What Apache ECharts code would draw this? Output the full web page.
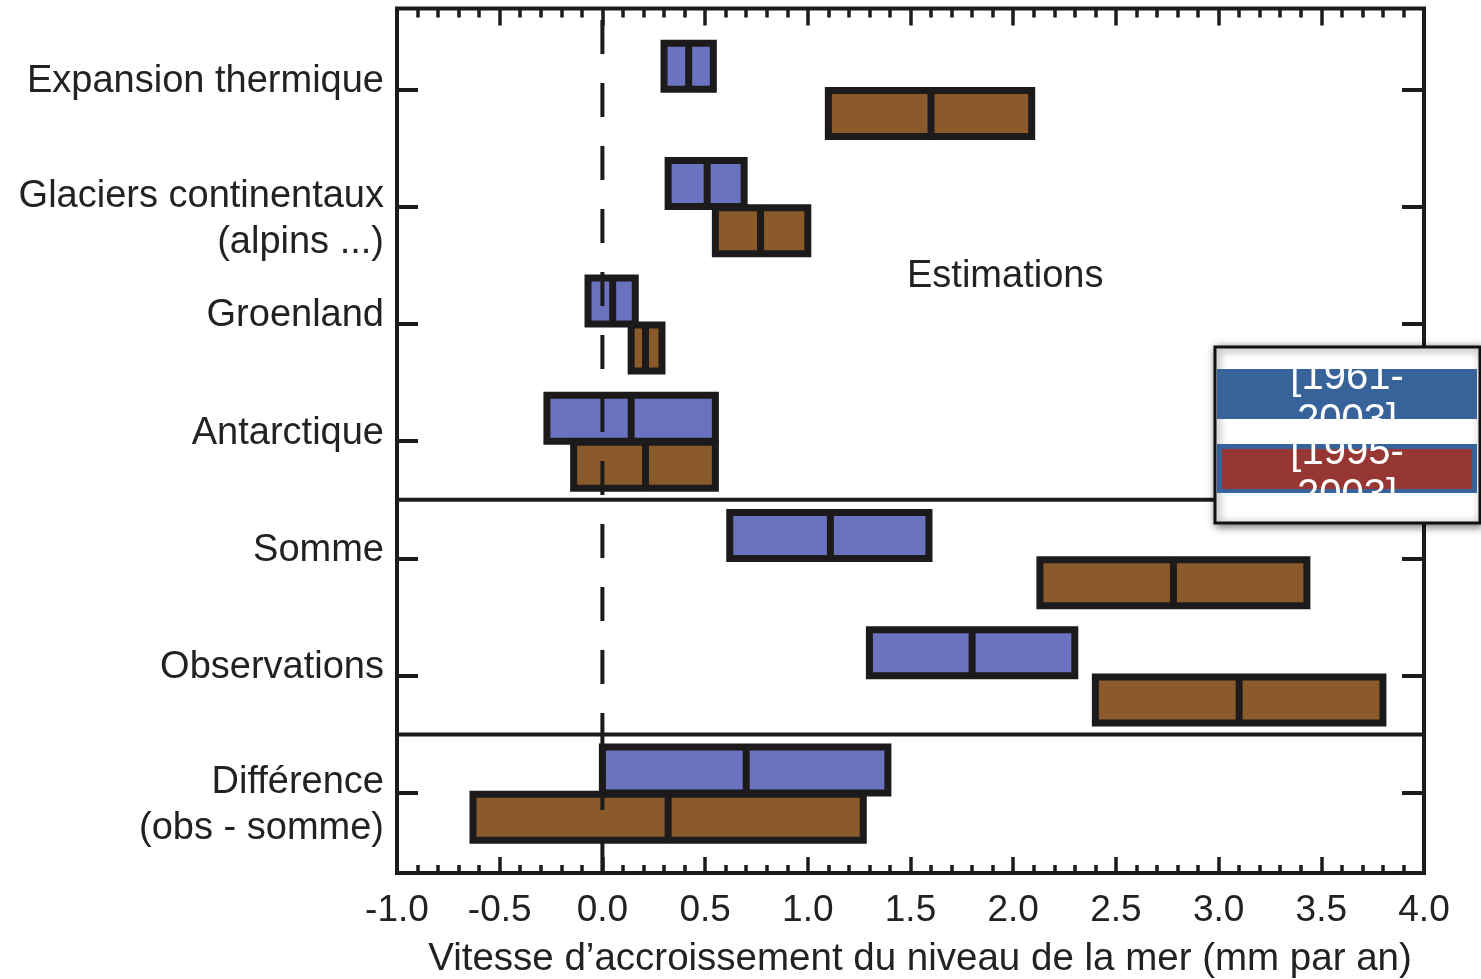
<!DOCTYPE html>
<html>
<head>
<meta charset="utf-8">
<script src="https://cdn.jsdelivr.net/npm/echarts@6/dist/echarts.min.js"></script>
<style>
  html, body { margin: 0; padding: 0; background: #fff; }
  #chart { width: 1481px; height: 979px; }
</style>
</head>
<body>
<div id="chart"></div>
<script>
// Contributions à l'élévation du niveau de la mer (mm par an)
const categories = [
  'Expansion thermique',
  'Glaciers continentaux\n(alpins ...)',
  'Groenland',
  'Antarctique',
  'Somme',
  'Observations',
  'Différence\n(obs - somme)'
];
const periods = ['[1961-2003]', '[1995-2003]'];

// Période 1961-2003 : borne basse, valeur centrale, borne haute
const low1961  = [0.30, 0.32, -0.07, -0.27, 0.62, 1.30, 0.00];
const mid1961  = [0.42, 0.51,  0.05,  0.14, 1.11, 1.80, 0.70];
const high1961 = [0.54, 0.69,  0.16,  0.55, 1.59, 2.30, 1.39];

// Période récente
const low1995  = [1.10, 0.55, 0.14, -0.14, 2.13, 2.40, -0.63];
const mid1995  = [1.60, 0.77, 0.21,  0.21, 2.78, 3.10,  0.32];
const high1995 = [2.09, 1.00, 0.29,  0.55, 3.43, 3.80,  1.27];

// Axe horizontal
const xMin = -1.0;
const xMax = 4.0;
const xStep = 0.5;
const zeroValue = 0;

// Premier indice de chaque nouveau groupe (traits de séparation)
const groupStarts = [4, 6];

const FONT = "'Liberation Sans', Arial, Helvetica, sans-serif";
const INK = '#1c1a1b';
const TEXT = '#222';
const fills = ['#6b72bf', '#8a5a2b'];
const legendFills = ['#38639a', '#963733'];

function rows(lo, mid, hi) {
  return categories.map((c, i) => [i, lo[i], mid[i], hi[i]]);
}

function barRenderer(period) {
  return function (params, api) {
    const cat = api.value(0);
    const pLo = api.coord([api.value(1), cat]);
    const pMid = api.coord([api.value(2), cat]);
    const pHi = api.coord([api.value(3), cat]);
    const band = api.size([0, 1])[1];
    const h = band * 0.392;
    const top = period === 0 ? pLo[1] - h : pLo[1] + band * 0.01;
    return {
      type: 'group',
      children: [
        {
          type: 'rect',
          shape: { x: pLo[0], y: top, width: pHi[0] - pLo[0], height: h },
          style: { fill: fills[period], stroke: INK, lineWidth: 7 }
        },
        {
          type: 'line',
          shape: { x1: pMid[0], y1: top, x2: pMid[0], y2: top + h },
          style: { stroke: INK, lineWidth: 7 }
        }
      ]
    };
  };
}

const chart = echarts.init(document.getElementById('chart'), null, { renderer: 'canvas' });

const tickStyle = { color: INK, width: 3.5 };
const labelFont = { fontSize: 38, color: TEXT, fontFamily: FONT, lineHeight: 47 };

const option = {
  backgroundColor: '#fff',
  animation: false,
  textStyle: { fontFamily: FONT },
  grid: [
    { left: 397, right: 57, top: 8.5, bottom: 106, show: true, borderColor: INK, borderWidth: 4, backgroundColor: 'transparent', outerBoundsMode: 'none', containLabel: false },
    { left: 397, right: 57, top: 30.65, bottom: 127.25, show: false, outerBoundsMode: 'none', containLabel: false }
  ],
  xAxis: [
    {
      gridIndex: 0, type: 'value', position: 'bottom', min: xMin, max: xMax, interval: xStep,
      axisLine: { show: false, onZero: false },
      splitLine: { show: false },
      axisTick: { show: true, inside: true, length: 16, lineStyle: tickStyle },
      minorTick: { show: true, splitNumber: 5, length: 8, lineStyle: tickStyle },
      axisLabel: {
        show: true, margin: 19, fontSize: 37, color: TEXT, fontFamily: FONT,
        formatter: v => v.toFixed(1), showMinLabel: true, showMaxLabel: true
      },
      name: 'Vitesse d\u2019accroissement du niveau de la mer (mm par an)',
      nameLocation: 'middle',
      nameGap: 67,
      nameTextStyle: { fontSize: 38.5, color: TEXT, fontFamily: FONT, padding: [0, 0, 0, 19] }
    },
    {
      gridIndex: 0, type: 'value', position: 'top', min: xMin, max: xMax, interval: xStep,
      axisLine: { show: false, onZero: false },
      splitLine: { show: false },
      axisTick: { show: true, inside: true, length: 17, lineStyle: tickStyle },
      minorTick: { show: true, splitNumber: 5, length: 9, lineStyle: tickStyle },
      axisLabel: { show: false }
    },
    {
      gridIndex: 1, type: 'value', min: xMin, max: xMax, interval: xStep, show: false
    }
  ],
  yAxis: [
    { gridIndex: 0, type: 'value', min: 0, max: 1, show: false },
    {
      gridIndex: 1, type: 'category', data: categories, inverse: true, position: 'left',
      axisLine: { show: false, onZero: false },
      splitLine: { show: false },
      axisTick: { show: true, inside: true, alignWithLabel: true, length: 21, lineStyle: { color: INK, width: 4 } },
      axisLabel: {
        margin: 13, fontSize: 38, color: TEXT, fontFamily: FONT, lineHeight: 47,
        formatter: function (v) {
          const parts = v.split('\n');
          if (parts.length > 1) return '{m|' + parts[0] + '}\n{n|' + parts[1] + '}';
          return '{s|' + v + '}';
        },
        rich: {
          s: Object.assign({ padding: [0, 0, 16, 0] }, labelFont),
          m: Object.assign({ padding: [26, 0, 0, 0] }, labelFont),
          n: Object.assign({ padding: [24, 0, 0, 0] }, labelFont)
        }
      }
    },
    {
      gridIndex: 1, type: 'category', data: categories, inverse: true, position: 'right',
      axisLine: { show: false, onZero: false },
      splitLine: { show: false },
      axisTick: { show: true, inside: true, alignWithLabel: true, length: 22, lineStyle: { color: INK, width: 4 } },
      axisLabel: { show: false }
    }
  ],
  series: [
    {
      name: periods[0], type: 'custom', xAxisIndex: 2, yAxisIndex: 1, z: 3,
      renderItem: barRenderer(0), data: rows(low1961, mid1961, high1961)
    },
    {
      name: periods[1], type: 'custom', xAxisIndex: 2, yAxisIndex: 1, z: 3,
      renderItem: barRenderer(1), data: rows(low1995, mid1995, high1995)
    },
    {
      // traits horizontaux séparant les groupes
      name: 'separateurs', type: 'custom', xAxisIndex: 2, yAxisIndex: 1, z: 4,
      data: groupStarts.map(g => [g]),
      renderItem: function (params, api) {
        const g = api.value(0);
        const a = api.coord([xMin, g - 1]);
        const b = api.coord([xMax, g]);
        const y = (a[1] + b[1]) / 2;
        return {
          type: 'line',
          shape: { x1: a[0], y1: y, x2: b[0], y2: y },
          style: { stroke: INK, lineWidth: 4 }
        };
      }
    },
    {
      // ligne verticale pointillée à zéro
      name: 'zero', type: 'custom', xAxisIndex: 0, yAxisIndex: 0, z: 6,
      data: [[zeroValue]],
      renderItem: function (params, api) {
        const p0 = api.coord([api.value(0), 0]);
        const p1 = api.coord([api.value(0), 1]);
        return {
          type: 'line',
          shape: { x1: p0[0], y1: p0[1], x2: p1[0], y2: p1[1] },
          style: { stroke: INK, lineWidth: 4, lineDash: [34, 29] }
        };
      }
    }
  ],
  graphic: [
    {
      type: 'text', x: 907, y: 277, z: 100,
      style: { text: 'Estimations', fontSize: 38, fontFamily: FONT, fill: TEXT, verticalAlign: 'middle', align: 'left' }
    },
    {
      type: 'rect', z: 100, shape: { x: 1215, y: 347, width: 265, height: 176 },
      style: { fill: '#fff', stroke: '#111', lineWidth: 3, shadowBlur: 8, shadowColor: 'rgba(0,0,0,0.55)', shadowOffsetX: 2, shadowOffsetY: 2 }
    },
    { type: 'rect', z: 101, shape: { x: 1217, y: 369, width: 260, height: 50 }, style: { fill: legendFills[0] } },
    { type: 'rect', z: 101, shape: { x: 1217, y: 444, width: 260, height: 49 }, style: { fill: legendFills[0] } },
    { type: 'rect', z: 102, shape: { x: 1222, y: 449, width: 250, height: 40 }, style: { fill: legendFills[1] } },
    {
      type: 'text', z: 103, x: 1347, y: 399,
      style: { text: periods[0].replace('-', '-\n'), fontSize: 40, lineHeight: 43, fontFamily: FONT, fill: '#fff', align: 'center', verticalAlign: 'middle' }
    },
    {
      type: 'text', z: 103, x: 1347, y: 474,
      style: { text: periods[1].replace('-', '-\n'), fontSize: 40, lineHeight: 43, fontFamily: FONT, fill: '#fff', align: 'center', verticalAlign: 'middle' }
    }
  ]
};

chart.setOption(option);
</script>
</body>
</html>
